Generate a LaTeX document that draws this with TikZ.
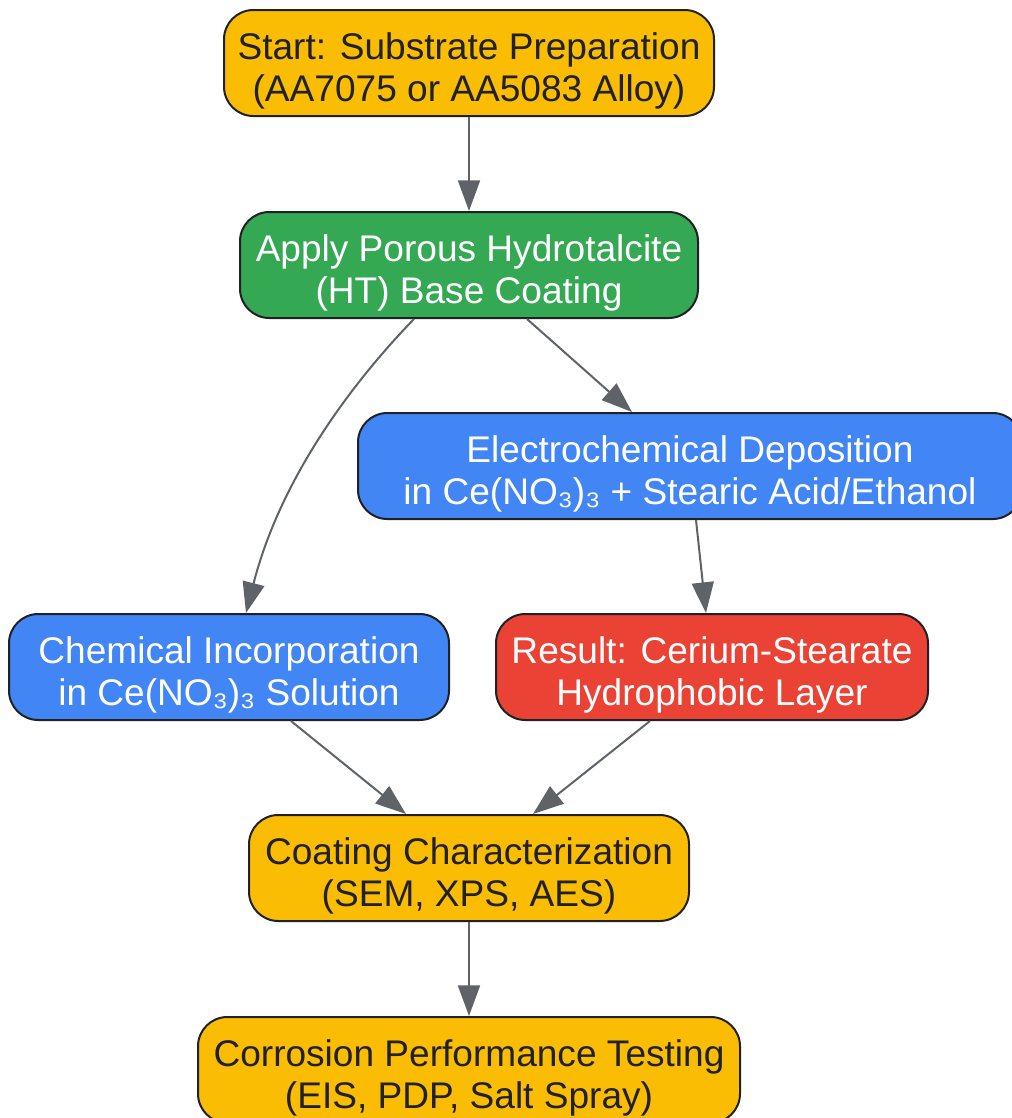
\documentclass[tikz,border=0pt]{standalone}
\usepackage{fontspec}
\setmainfont{Liberation Sans}
\usetikzlibrary{arrows.meta,calc}
\definecolor{gyellow}{HTML}{FBBC04}
\definecolor{ggreen}{HTML}{34A853}
\definecolor{gblue}{HTML}{4285F4}
\definecolor{gred}{HTML}{EA4335}
\definecolor{gborder}{HTML}{202124}
\definecolor{garrow}{HTML}{5F6368}
\definecolor{gtext}{HTML}{202124}
\newcommand{\topstrut}{\rule{0pt}{32pt}}
\tikzset{
  box/.style={draw=gborder, line width=1.5pt, rounded corners=22pt, align=center,
    minimum height=79.5pt, inner sep=2pt,
    font=\fontsize{27.8}{31.5}\selectfont},
  ybox/.style={box, fill=gyellow, text=gtext},
  gbox/.style={box, fill=ggreen, text=white},
  bbox/.style={box, fill=gblue, text=white},
  rbox/.style={box, fill=gred, text=white},
  conn/.style={draw=garrow, line width=1.5pt, -{Triangle[length=23pt,width=16.5pt]}}
}
\begin{document}
\begin{tikzpicture}[x=0.75pt,y=-0.75pt]
\useasboundingbox (0,0) rectangle (1011,1118);
\node[ybox, minimum width=367.5pt] (start) at (469,63) {\topstrut Start: Substrate Preparation\\(AA7075 or AA5083 Alloy)};
\node[gbox, minimum width=343.5pt] (apply) at (469,265) {\topstrut Apply Porous Hydrotalcite\\(HT) Base Coating};
\node[bbox, minimum width=498pt] (electro) at (690,466) {\topstrut Electrochemical Deposition\\in Ce(NO₃)₃ + Stearic Acid/Ethanol};
\node[bbox, minimum width=330pt] (chem) at (229,667) {\topstrut Chemical Incorporation\\in Ce(NO₃)₃ Solution};
\node[rbox, minimum width=324pt] (result) at (712,667) {\topstrut Result: Cerium-Stearate\\Hydrophobic Layer};
\node[ybox, minimum width=330pt] (coat) at (469,868) {\topstrut Coating Characterization\\(SEM, XPS, AES)};
\node[ybox, minimum width=406.5pt] (corr) at (469,1070) {\topstrut Corrosion Performance Testing\\(EIS, PDP, Salt Spray)};

\draw[conn] (start.south) -- (apply.north);
\draw[conn] ($(apply.south)+(-55,0)$) .. controls (350,385) and (280,480) .. ($(chem.north)+(17,0)$);
\draw[conn] ($(apply.south)+(58,0)$) -- ($(electro.north)+(-58,0)$);
\draw[conn] ($(electro.south)+(6,0)$) -- ($(result.north)+(-6,0)$);
\draw[conn] ($(chem.south)+(62,0)$) -- ($(coat.north)+(-63,0)$);
\draw[conn] ($(result.south)+(-62,0)$) -- ($(coat.north)+(64,0)$);
\draw[conn] (coat.south) -- (corr.north);
\end{tikzpicture}
\end{document}
